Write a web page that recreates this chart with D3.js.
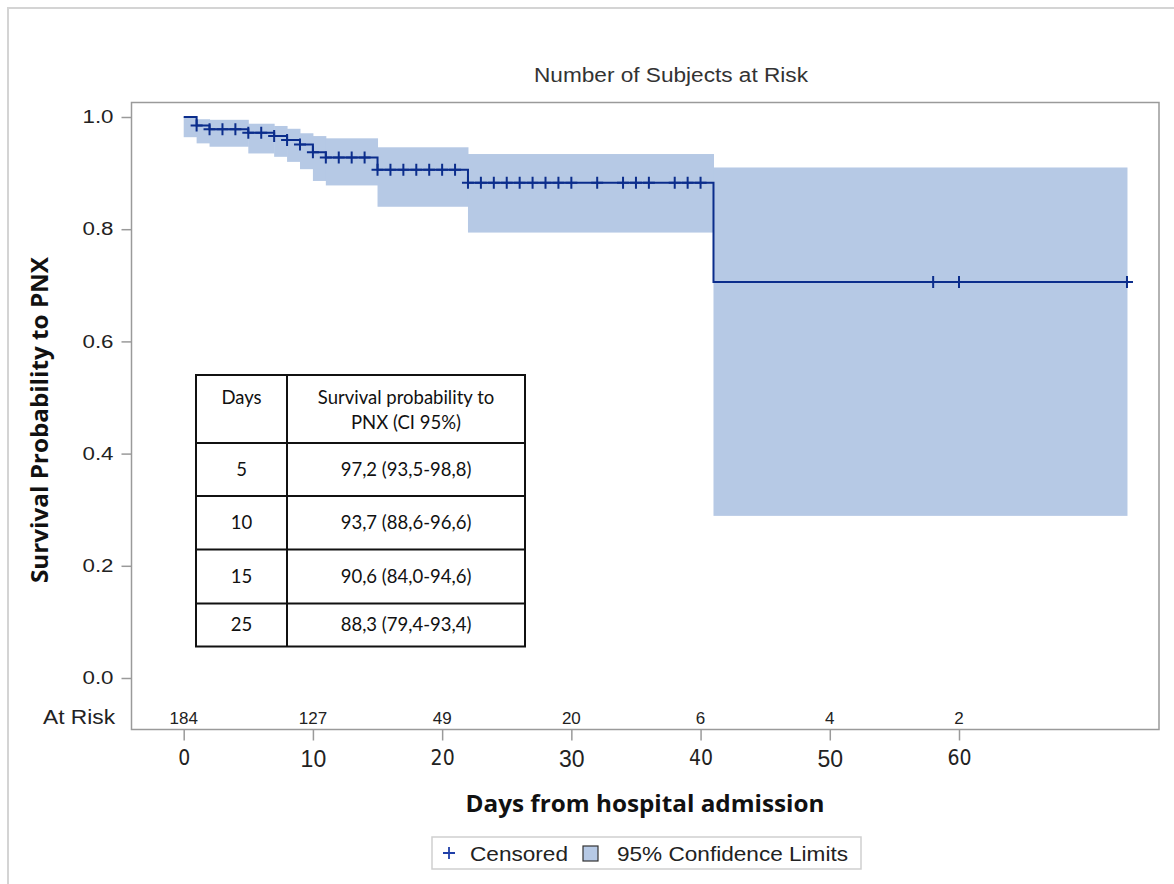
<!DOCTYPE html>
<html>
<head>
<meta charset="utf-8">
<script src="https://cdn.jsdelivr.net/npm/d3@7"></script>
<style>
  html, body { margin: 0; padding: 0; background: #fff; }
  svg { display: block; font-family: "Liberation Sans", Arial, sans-serif; }
</style>
</head>
<body>
<svg id="chart" width="1174" height="884"></svg>
<script>
// ---- Data ----
const stepTimes = [0, 1, 2, 5, 7, 8, 9, 10, 11, 15, 22, 41];
const survival  = [1.0, 0.985, 0.978, 0.972, 0.966, 0.959, 0.951, 0.937, 0.928, 0.906, 0.883, 0.706];
const ciLower   = [0.964, 0.953, 0.947, 0.935, 0.929, 0.920, 0.907, 0.886, 0.878, 0.840, 0.794, 0.289];
const ciUpper   = [1.0, 0.996, 0.995, 0.988, 0.984, 0.979, 0.971, 0.966, 0.962, 0.946, 0.934, 0.910];
const endTime = 73;
const censoredDays = [1, 2, 3, 4, 5, 6, 7, 8, 9, 10, 11, 12, 13, 14, 15, 16, 17, 18, 19, 20, 21,
  22, 23, 24, 25, 26, 27, 28, 29, 30, 32, 34, 35, 36, 38, 39, 40, 58, 60, 73];
const xTicks = [0, 10, 20, 30, 40, 50, 60];
const atRisk = [184, 127, 49, 20, 6, 4, 2];
const yTicks = [0.0, 0.2, 0.4, 0.6, 0.8, 1.0];
const tableDays = ["5", "10", "15", "25"];
const tableValues = ["97,2 (93,5-98,8)", "93,7 (88,6-96,6)", "90,6 (84,0-94,6)", "88,3 (79,4-93,4)"];

// ---- Layout ----
const svg = d3.select("#chart");
const lineColor = "#0b2d8c";
const bandColor = "#b6c9e5";
const frame = { left: 131.5, top: 102.5, right: 1159, bottom: 729.5 };

const x = d3.scaleLinear().domain([0, 60]).range([183.7, 959]);
const y = d3.scaleLinear().domain([0, 1]).range([678, 117]);

// outer border
svg.append("rect").attr("x", 8).attr("y", 8).attr("width", 1180).attr("height", 900)
  .attr("fill", "none").attr("stroke", "#d4d4d4").attr("stroke-width", 2);

// CI band (step area)
stepTimes.forEach((t, i) => {
  const tEnd = i < stepTimes.length - 1 ? stepTimes[i + 1] : endTime;
  svg.append("rect")
    .attr("x", x(t)).attr("y", y(ciUpper[i]))
    .attr("width", x(tEnd) - x(t) + 0.5)
    .attr("height", y(ciLower[i]) - y(ciUpper[i]))
    .attr("fill", bandColor);
});

// survival step line
const linePts = stepTimes.map((t, i) => [t, survival[i]]);
linePts.push([endTime, survival[survival.length - 1]]);
const line = d3.line().x(d => x(d[0])).y(d => y(d[1])).curve(d3.curveStepAfter);
svg.append("path").datum(linePts).attr("d", line)
  .attr("fill", "none").attr("stroke", lineColor).attr("stroke-width", 2);

// censored marks
function survAt(t) {
  let s = survival[0];
  stepTimes.forEach((st, i) => { if (st <= t) s = survival[i]; });
  return s;
}
const cs = 6;
svg.append("g").selectAll("path").data(censoredDays).join("path")
  .attr("d", d => {
    const cx = x(d), cy = y(survAt(d));
    return `M${cx - cs},${cy}H${cx + cs}M${cx},${cy - cs}V${cy + cs}`;
  })
  .attr("stroke", lineColor).attr("stroke-width", 2).attr("fill", "none");

// frame
svg.append("rect").attr("x", frame.left).attr("y", frame.top)
  .attr("width", frame.right - frame.left).attr("height", frame.bottom - frame.top)
  .attr("fill", "none").attr("stroke", "#9a9a9a").attr("stroke-width", 1.5);

// Y axis ticks + labels
const yAxis = d3.axisLeft(y).tickValues(yTicks).tickFormat(d3.format(".1f")).tickSize(10).tickPadding(8);
const yg = svg.append("g").attr("transform", `translate(${frame.left},0)`).call(yAxis);
yg.select(".domain").remove();
yg.selectAll("line").attr("stroke", "#9a9a9a").attr("stroke-width", 1.5);
yg.selectAll("text").attr("font-size", 18).attr("fill", "#222")
  .attr("font-family", "'Liberation Sans', Arial, sans-serif")
  .attr("textLength", 31).attr("lengthAdjust", "spacingAndGlyphs");

// X axis ticks + labels
const big = d => (d === 10 || d === 30 || d === 50);
const xAxis = d3.axisBottom(x).tickValues(xTicks).tickFormat(d3.format("d")).tickSize(11).tickPadding(10);
const xg = svg.append("g").attr("transform", `translate(0,${frame.bottom})`).call(xAxis);
xg.select(".domain").remove();
xg.selectAll("line").attr("stroke", "#9a9a9a").attr("stroke-width", 1.5);
xg.selectAll("text")
  .attr("font-size", d => big(d) ? 23 : 21)
  .attr("font-family", d => big(d) ? "'Liberation Sans', Arial, sans-serif" : "'DejaVu Sans Condensed', 'Liberation Sans', sans-serif")
  .attr("fill", "#222");

// At risk row
svg.append("text").attr("x", 115).attr("y", 724).attr("text-anchor", "end")
  .attr("font-size", 20).attr("fill", "#222")
  .attr("textLength", 72).attr("lengthAdjust", "spacingAndGlyphs").text("At Risk");
svg.append("g").selectAll("text").data(atRisk).join("text")
  .attr("x", (d, i) => x(xTicks[i])).attr("y", 724).attr("text-anchor", "middle")
  .attr("font-size", 17).attr("fill", "#222").text(d => d);

// Title
svg.append("text").attr("x", 671).attr("y", 82).attr("text-anchor", "middle")
  .attr("font-size", 20).attr("fill", "#333")
  .attr("textLength", 274).attr("lengthAdjust", "spacingAndGlyphs")
  .text("Number of Subjects at Risk");

// Axis titles
svg.append("text").attr("x", 645).attr("y", 812).attr("text-anchor", "middle")
  .attr("font-size", 24).attr("font-weight", "bold").attr("fill", "#111")
  .attr("font-family", "'Open Sans', 'Liberation Sans', sans-serif")
  .attr("textLength", 359).attr("lengthAdjust", "spacingAndGlyphs")
  .text("Days from hospital admission");
svg.append("text").attr("transform", "translate(48,420) rotate(-90)").attr("text-anchor", "middle")
  .attr("font-size", 24).attr("font-weight", "bold").attr("fill", "#111")
  .attr("font-family", "'Open Sans', 'Liberation Sans', sans-serif")
  .attr("textLength", 326).attr("lengthAdjust", "spacingAndGlyphs")
  .text("Survival Probability to PNX");

// Inset table
const tbl = { left: 196, right: 525, mid: 287, rows: [375, 443, 496, 549.5, 603.5, 646.5] };
const tg = svg.append("g").attr("font-family", "Lato, 'Open Sans', sans-serif").attr("fill", "#111");
tg.append("rect").attr("x", tbl.left).attr("y", tbl.rows[0]).attr("width", tbl.right - tbl.left)
  .attr("height", tbl.rows[5] - tbl.rows[0]).attr("fill", "#fff").attr("stroke", "#111").attr("stroke-width", 2);
tbl.rows.slice(1, 5).forEach(r => {
  tg.append("line").attr("x1", tbl.left).attr("x2", tbl.right).attr("y1", r).attr("y2", r)
    .attr("stroke", "#111").attr("stroke-width", 2);
});
tg.append("line").attr("x1", tbl.mid).attr("x2", tbl.mid).attr("y1", tbl.rows[0]).attr("y2", tbl.rows[5])
  .attr("stroke", "#111").attr("stroke-width", 2);
const c1 = (tbl.left + tbl.mid) / 2, c2 = (tbl.mid + tbl.right) / 2;
const fs = 18.5;
tg.append("text").attr("x", c1).attr("y", 404).attr("text-anchor", "middle").attr("font-size", fs).text("Days");
tg.append("text").attr("x", c2).attr("y", 404).attr("text-anchor", "middle").attr("font-size", fs).text("Survival probability to");
tg.append("text").attr("x", c2).attr("y", 429).attr("text-anchor", "middle").attr("font-size", fs).text("PNX (CI 95%)");
tableDays.forEach((d, i) => {
  const cy = (tbl.rows[i + 1] + tbl.rows[i + 2]) / 2 + 6;
  tg.append("text").attr("x", c1).attr("y", cy).attr("text-anchor", "middle").attr("font-size", fs).text(d);
  tg.append("text").attr("x", c2).attr("y", cy).attr("text-anchor", "middle").attr("font-size", fs).text(tableValues[i]);
});

// Legend
const lg = svg.append("g");
lg.append("rect").attr("x", 432).attr("y", 837).attr("width", 429).attr("height", 32)
  .attr("fill", "#fff").attr("stroke", "#cfcfcf").attr("stroke-width", 1.5);
lg.append("path").attr("d", "M443,853H455M449,847V859").attr("stroke", "#1f3fa8").attr("stroke-width", 1.8);
lg.append("text").attr("x", 470).attr("y", 861).attr("font-size", 21).attr("fill", "#222")
  .attr("textLength", 98).attr("lengthAdjust", "spacingAndGlyphs").text("Censored");
lg.append("rect").attr("x", 583).attr("y", 846).attr("width", 15).attr("height", 15)
  .attr("fill", bandColor).attr("stroke", "#333").attr("stroke-width", 1.2);
lg.append("text").attr("x", 617).attr("y", 861).attr("font-size", 21).attr("fill", "#222")
  .attr("textLength", 231).attr("lengthAdjust", "spacingAndGlyphs").text("95% Confidence Limits");
</script>
</body>
</html>
